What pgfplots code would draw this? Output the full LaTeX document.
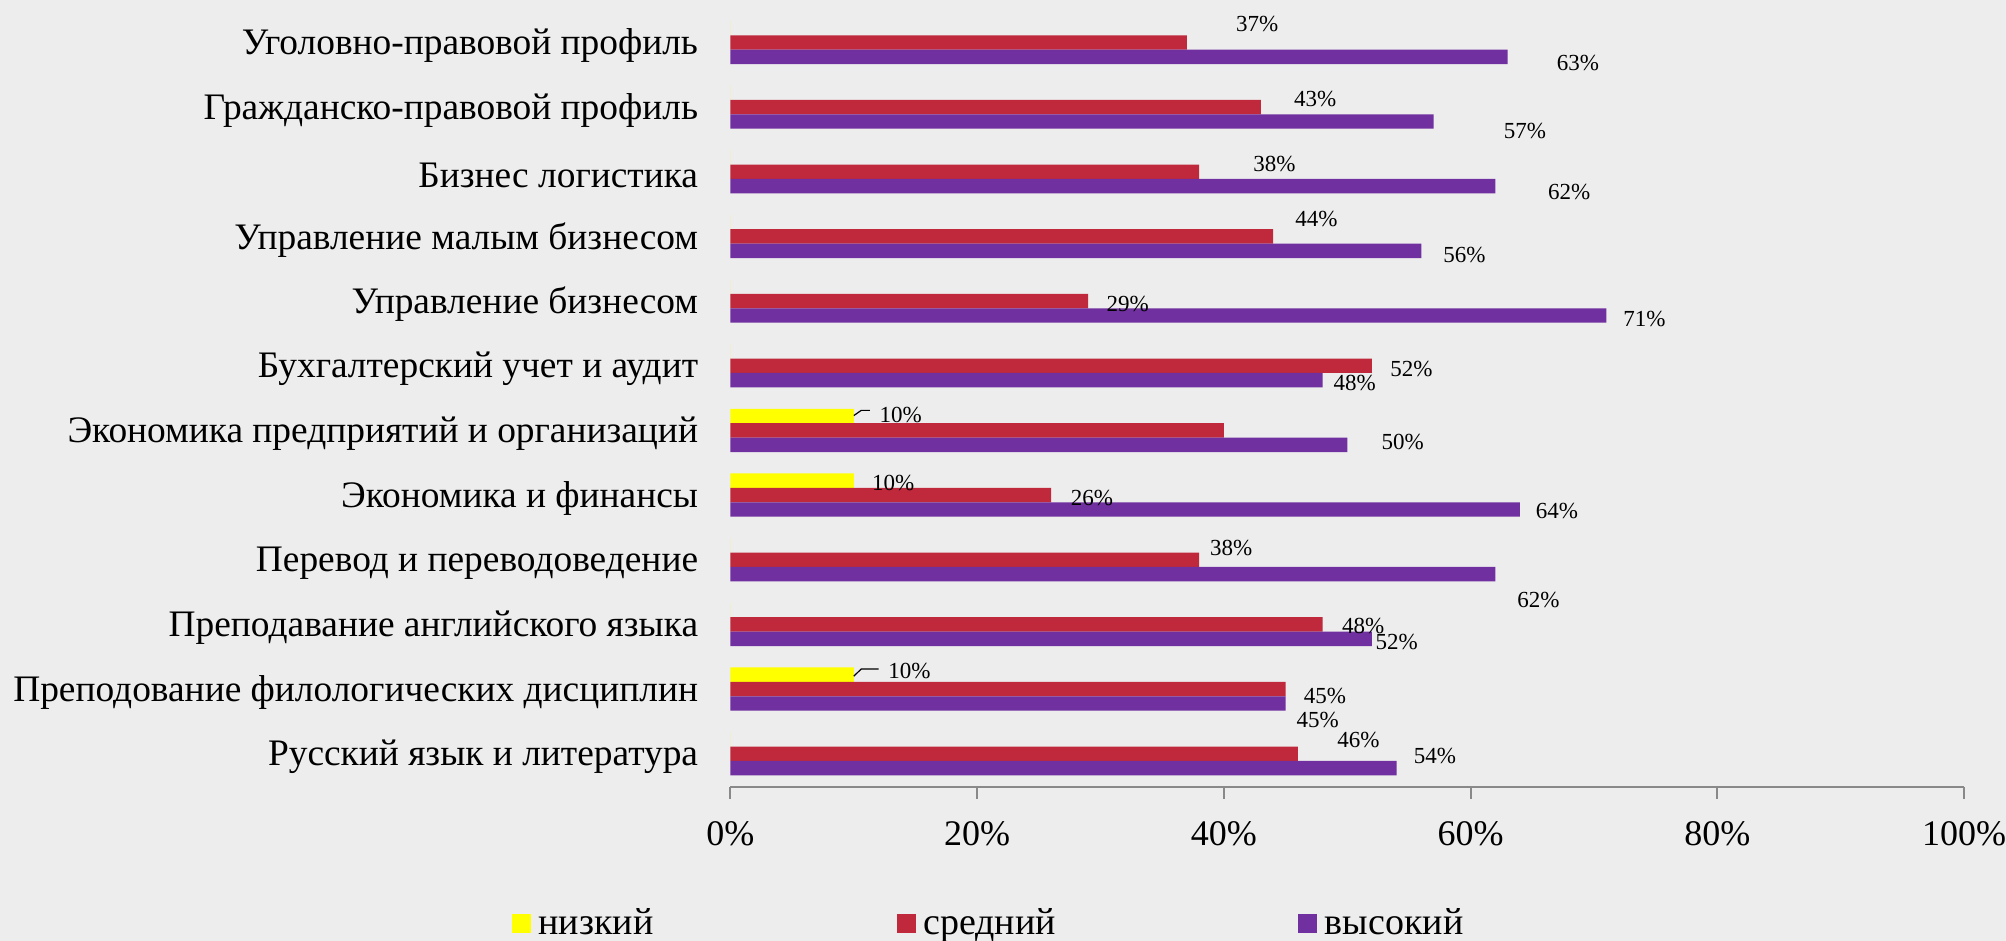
\documentclass[border=0pt]{standalone}
\usepackage{fontspec}
\setmainfont{Liberation Serif}
\usepackage{pgfplots}
\pgfplotsset{compat=1.18}
\usepackage{pgfplotstable}

\definecolor{bg}{HTML}{EDEDED}
\definecolor{low}{HTML}{FFFF00}
\definecolor{mid}{HTML}{C0283C}
\definecolor{high}{HTML}{7030A0}
\definecolor{axgray}{HTML}{898989}

\pgfplotsset{sqlegend/.style={legend image code/.code={\fill[##1] (0pt,-4.75pt) rectangle (9.5pt,4.75pt);}}}

% y=11 is the top row
\pgfplotstableread{
y  low mid high
11 0   37  63
10 0   43  57
9  0   38  62
8  0   44  56
7  0   29  71
6  0   52  48
5  10  40  50
4  10  26  64
3  0   38  62
2  0   48  52
1  10  45  45
0  0   46  54
}\data

% label positions as they sit in the original
\pgfplotstableread{
x    y     v
42.7 11.28 37
68.7 10.68 63
47.4 10.13 43
64.4 9.63  57
44.1 9.12  38
68.0 8.68  62
47.5 8.27  44
59.5 7.71  56
32.2 6.96  29
74.1 6.72  71
55.2 5.95  52
50.6 5.73  48
13.8 5.24  10
54.5 4.82  50
13.2 4.18  10
29.3 3.95  26
67.0 3.75  64
40.6 3.18  38
65.5 2.37  62
51.3 1.97  48
54.0 1.73  52
14.5 1.28  10
48.2 0.90  45
47.6 0.52  45
50.9 0.21  46
57.1 -0.03 54
}\labels

\begin{document}
\begin{tikzpicture}
\path[use as bounding box, fill=bg] (-365.25pt,-77.25pt) rectangle (637.75pt,393.25pt);
\begin{axis}[
    scale only axis,
    width=616.75pt, height=387.85pt,
    xmin=0, xmax=100, ymin=-0.507, ymax=11.49,
    bar width=7.2pt,
    axis x line*=bottom, axis y line*=left,
    x axis line style={axgray, line width=1pt, -},
    y axis line style={draw=none},
    xtick={0,20,...,100},
    xticklabels={0\%,20\%,40\%,60\%,80\%,100\%},
    ytick={0,...,11},
    yticklabels={Русский язык и литература, Преподование филологических дисциплин, Преподавание английского языка, Перевод и переводоведение, Экономика и финансы, Экономика предприятий и организаций, Бухгалтерский учет и аудит, Управление бизнесом, Управление малым бизнесом, Бизнес логистика, Гражданско-правовой профиль, Уголовно-правовой профиль},
    tick align=outside,
    major tick length=6pt,
    xtick style={axgray, line width=1pt},
    ytick style={draw=none},
    /pgf/number format/assume math mode=true,
    xticklabel style={font=\fontsize{18}{20}\selectfont, inner sep=0pt, yshift=-11.2pt},
    yticklabel style={font=\fontsize{18.7}{21}\selectfont, anchor=east, inner sep=0pt, xshift=-10pt, yshift=-1.6pt},
    legend style={at={(-0.1774,-0.1761)}, anchor=west, draw=none, fill=none,
        font=\fontsize{19}{21}\selectfont, inner sep=0pt,
        nodes={inner sep=0pt},
        /tikz/every odd column/.append style={column sep=3.8pt}},
    legend columns=3,
]
\addplot[xbar, fill=low, draw=none, bar shift=7.2pt, sqlegend] table[x=low, y=y] {\data};
\addlegendentry{\makebox[179pt][l]{низкий}}
\addplot[xbar, fill=mid, draw=none, bar shift=0pt, sqlegend] table[x=mid, y=y] {\data};
\addlegendentry{\makebox[187.5pt][l]{средний}}
\addplot[xbar, fill=high, draw=none, bar shift=-7.2pt, sqlegend] table[x=high, y=y] {\data};
\addlegendentry{высокий}

\addplot[draw=none, mark=none, forget plot, point meta=explicit,
    nodes near coords={\pgfmathprintnumber{\pgfplotspointmeta}\%},
    nodes near coords style={anchor=center, font=\fontsize{11.5}{12}\selectfont, inner sep=0pt, text=black}]
    table[x=x, y=y, meta=v] {\labels};

% leader lines of the small labels
\addplot[black, line width=0.6pt, forget plot] coordinates {(10.0,5.23) (10.6,5.31) (11.3,5.31)};
\addplot[black, line width=0.6pt, forget plot] coordinates {(10.0,1.20) (10.6,1.31) (12.0,1.31)};
\end{axis}
\end{tikzpicture}
\end{document}
